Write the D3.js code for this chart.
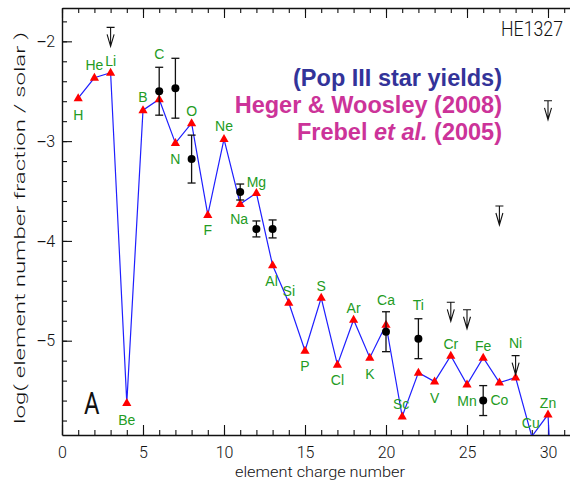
<!DOCTYPE html>
<html><head><meta charset="utf-8">
<script src="https://cdn.jsdelivr.net/npm/d3@7"></script>
<style>
body{margin:0;background:#ffffff;}
svg{display:block;}
</style></head><body>
<svg id="chart" width="570" height="488"></svg>
<script>
// ---------- data ----------
const elements = ["H","He","Li","Be","B","C","N","O","F","Ne","Na","Mg","Al","Si","P","S","Cl","Ar","K","Ca","Sc","Ti","V","Cr","Mn","Fe","Co","Ni","Cu","Zn"];
const chargeNumber = [1,2,3,4,5,6,7,8,9,10,11,12,13,14,15,16,17,18,19,20,21,22,23,24,25,26,27,28,29,30];
const modelYield = [-2.57,-2.365,-2.315,-5.625,-2.69,-2.58,-3.02,-2.82,-3.74,-2.98,-3.63,-3.52,-4.245,-4.62,-5.10,-4.57,-5.24,-4.79,-5.17,-4.84,-5.76,-5.32,-5.41,-5.15,-5.44,-5.17,-5.42,-5.37,-5.96,-5.74];
const tailCharge = [31];
const tailYield = [-9.0];

const obsCharge = [6,7,8,11,12,13,20,22,26];
const obsValue  = [-2.50,-2.47,-3.18,-3.51,-3.88,-3.88,-4.91,-4.98,-5.60];
const obsError  = [0.24,0.30,0.24,0.08,0.08,0.09,0.20,0.20,0.15];

const limitCharge = [3,24,25,27,28,30];
const limitValue  = [-1.86,-4.615,-4.69,-3.65,-5.15,-2.596];

const xTicks = [0,5,10,15,20,25,30];
const yTicks = [-5,-4,-3,-2];
const legendLines = ["(Pop III star yields)","Heger & Woosley (2008)","Frebel","et al.","(2005)"];
const starName = "HE1327";
const panelName = "A";
const xTitle = "element charge number";
const yTitle = "log( element number fraction / solar )";

// ---------- layout (pixel offsets of element labels from their markers) ----------
const labelDy = [17,-13,-12,17,-13,-45,16,-12,15,-13,15,-11,16,-12,15,-12,15,-12,16,-25,-13,-68,16,-12,16,-12,17,-35,-14,-12];
const labelDx = [0,0,0,0,0,0,0,0,0,0,-1,0,-1,0,0,0,0,0,0,0,-1,0,0,0,0,0,0,0,-1,0];

// ---------- chart ----------
const svg = d3.select("#chart");
const X0 = 62, X1 = 580.4, Y0 = 435, Y1 = 8;
const x = d3.scaleLinear().domain([0,32]).range([X0,X1]);
const y = d3.scaleLinear().domain([-5.945,-1.666]).range([Y0,Y1]);

svg.append("rect").attr("width",570).attr("height",488).attr("fill","#ffffff");

svg.append("defs").append("clipPath").attr("id","plotclip")
  .append("rect").attr("x",X0).attr("y",Y1).attr("width",X1-X0).attr("height",Y0-Y1);

const tickFont = "Roboto, 'Liberation Sans', sans-serif";
function styleAxis(g){
  g.selectAll("path.domain").attr("stroke","#111").attr("stroke-width",1.4);
  g.selectAll(".tick line").attr("stroke","#111").attr("stroke-width",1.1);
  g.selectAll(".tick text").attr("fill","#111").style("font-family",tickFont).style("font-size","16px").style("font-weight","300");
}

// minor ticks
svg.append("g").attr("transform",`translate(0,${Y0})`)
  .call(d3.axisBottom(x).ticks(32).tickSize(-5).tickFormat(""))
  .call(g=>g.select(".domain").remove()).call(styleAxis);
svg.append("g").attr("transform",`translate(0,${Y1})`)
  .call(d3.axisTop(x).ticks(32).tickSize(-5).tickFormat(""))
  .call(g=>g.select(".domain").remove()).call(styleAxis);
svg.append("g").attr("transform",`translate(${X0},0)`)
  .call(d3.axisLeft(y).ticks(20).tickSize(-5).tickFormat(""))
  .call(g=>g.select(".domain").remove()).call(styleAxis);
svg.append("g").attr("transform",`translate(${X1},0)`)
  .call(d3.axisRight(y).ticks(20).tickSize(-5).tickFormat(""))
  .call(g=>g.select(".domain").remove()).call(styleAxis);

// major axes
svg.append("g").attr("transform",`translate(0,${Y0})`)
  .call(d3.axisBottom(x).tickValues(xTicks).tickFormat(d3.format("d")).tickSizeInner(-10).tickSizeOuter(0).tickPadding(12))
  .call(styleAxis);
svg.append("g").attr("transform",`translate(0,${Y1})`)
  .call(d3.axisTop(x).tickValues(xTicks).tickSizeInner(-10).tickSizeOuter(0).tickFormat(""))
  .call(styleAxis);
const yAxisG = svg.append("g").attr("transform",`translate(${X0},0)`)
  .call(d3.axisLeft(y).tickValues(yTicks).tickFormat(d=>String(Math.abs(d))).tickSizeInner(-10).tickSizeOuter(0).tickPadding(7))
  .call(styleAxis);
// put a real minus sign (in a font that surely has it) before each negative label
yAxisG.selectAll(".tick text").each(function(d){
  const t = d3.select(this); const txt = t.text(); t.text(null);
  if (d < 0) t.append("tspan").style("font-family","'Liberation Sans', Arial, sans-serif").style("font-weight","normal").text("\u2212");
  t.append("tspan").text(txt);
});
svg.append("g").attr("transform",`translate(${X1},0)`)
  .call(d3.axisRight(y).tickValues(yTicks).tickSizeInner(-10).tickSizeOuter(0).tickFormat(""))
  .call(styleAxis);

// axis titles
svg.append("text").attr("x",320).attr("y",477)
  .attr("text-anchor","middle").attr("textLength",170).attr("lengthAdjust","spacingAndGlyphs")
  .style("font-family",tickFont).style("font-size","14.5px").style("font-weight","300").attr("fill","#111")
  .text(xTitle);
svg.append("text").attr("transform","translate(25,228) rotate(-90)")
  .attr("text-anchor","middle").attr("textLength",392).attr("lengthAdjust","spacingAndGlyphs")
  .style("font-family",tickFont).style("font-size","15px").style("font-weight","300").attr("fill","#111")
  .text(yTitle);

// model
const plot = svg.append("g").attr("clip-path","url(#plotclip)");
const modelPts = chargeNumber.map((z,i)=>[z,modelYield[i]]).concat(tailCharge.map((z,i)=>[z,tailYield[i]]));
plot.append("path").datum(modelPts)
  .attr("fill","none").attr("stroke","#1f1fff").attr("stroke-width",1.2)
  .attr("d",d3.line().x(d=>x(d[0])).y(d=>y(d[1])));

const tri = "M0,-5 L4.6,3 L-4.6,3 Z";
const [yMin] = y.domain();
plot.selectAll("path.tri").data(chargeNumber.map((z,i)=>[z,modelYield[i]]).filter(d=>d[1]>=yMin))
  .join("path").attr("class","tri").attr("d",tri).attr("fill","#ff0000")
  .attr("transform",d=>`translate(${x(d[0])},${y(d[1])})`);

// observed with error bars
const obs = obsCharge.map((z,i)=>({z,v:obsValue[i],e:obsError[i]}));
const eb = svg.append("g").attr("stroke","#111").attr("stroke-width",1.3);
eb.selectAll("line.v").data(obs).join("line")
  .attr("x1",d=>x(d.z)).attr("x2",d=>x(d.z)).attr("y1",d=>y(d.v+d.e)).attr("y2",d=>y(d.v-d.e));
eb.selectAll("line.t").data(obs).join("line")
  .attr("x1",d=>x(d.z)-4).attr("x2",d=>x(d.z)+4).attr("y1",d=>y(d.v+d.e)).attr("y2",d=>y(d.v+d.e));
eb.selectAll("line.b").data(obs).join("line")
  .attr("x1",d=>x(d.z)-4).attr("x2",d=>x(d.z)+4).attr("y1",d=>y(d.v-d.e)).attr("y2",d=>y(d.v-d.e));
svg.append("g").selectAll("circle").data(obs).join("circle")
  .attr("cx",d=>x(d.z)).attr("cy",d=>y(d.v)).attr("r",4).attr("fill","#000");

// upper limits
const lim = limitCharge.map((z,i)=>({z,v:limitValue[i]}));
const lg = svg.append("g").attr("stroke","#111").attr("stroke-width",1.1).attr("fill","none");
lg.selectAll("path").data(lim).join("path")
  .attr("transform",d=>`translate(${x(d.z)},${y(d.v)})`)
  .attr("d","M-4,0 L4,0 M0,0 L0,19 M-3.5,7 L0,19 L3.5,7");

// element labels
svg.append("g").selectAll("text").data(elements).join("text")
  .attr("x",(d,i)=>x(chargeNumber[i])+labelDx[i])
  .attr("y",(d,i)=>y(modelYield[i])+labelDy[i])
  .attr("dy","0.36em").attr("text-anchor","middle")
  .style("font-family","'Liberation Sans', Arial, sans-serif").style("font-size","14px")
  .attr("fill","#239b23").text(d=>d);

// legend text
const legendFont = "'Liberation Sans', Arial, sans-serif";
svg.append("text").attr("x",502).attr("y",86).attr("text-anchor","end")
  .style("font-family",legendFont).style("font-size","23.5px").style("font-weight","bold")
  .attr("fill","#333399").text(legendLines[0]);
svg.append("text").attr("x",502).attr("y",113).attr("text-anchor","end")
  .style("font-family",legendFont).style("font-size","23.5px").style("font-weight","bold")
  .attr("fill","#cc3399").text(legendLines[1]);
const l3 = svg.append("text").attr("x",502).attr("y",140).attr("text-anchor","end")
  .style("font-family",legendFont).style("font-size","23.5px").style("font-weight","bold")
  .attr("fill","#cc3399");
l3.append("tspan").text(legendLines[2]+" ");
l3.append("tspan").style("font-style","italic").text(legendLines[3]);
l3.append("tspan").text(" "+legendLines[4]);

// star name and panel letter
svg.append("text").attr("x",563).attr("y",35.5).attr("text-anchor","end")
  .attr("textLength",62).attr("lengthAdjust","spacingAndGlyphs")
  .style("font-family",tickFont).style("font-size","20px").style("font-weight","300").attr("fill","#111")
  .text(starName);
svg.append("text").attr("x",84).attr("y",413.5)
  .attr("textLength",15.5).attr("lengthAdjust","spacingAndGlyphs")
  .style("font-family",tickFont).style("font-size","32px").style("font-weight","normal").attr("fill","#111")
  .text(panelName);
</script>
</body></html>
